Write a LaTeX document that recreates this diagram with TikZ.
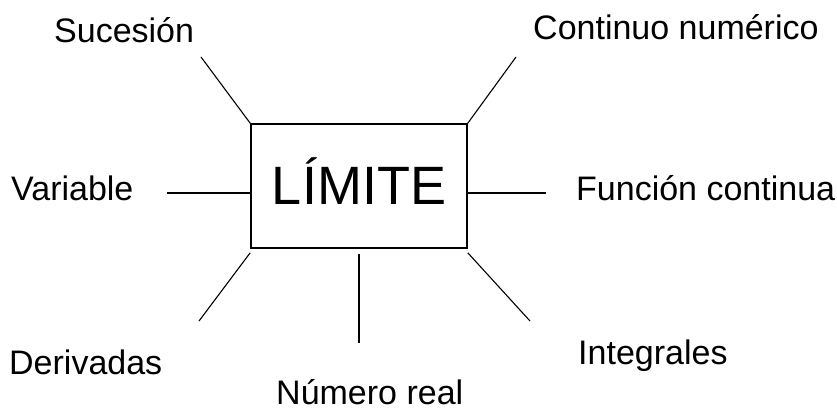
\documentclass[tikz,border=0pt]{standalone}
\usepackage{fontspec}
\setmainfont{Liberation Sans}
\usetikzlibrary{calc, positioning}

\tikzset{
  etiqueta/.style={anchor=base west, inner sep=0pt, font=\fontsize{34}{39}\selectfont},
  caja/.style={draw, line width=1.6pt, minimum width=216pt, minimum height=124pt,
               text height=38pt, text depth=0pt, font=\fontsize{54}{60}\selectfont},
  rama/.style={line width=1.1pt}
}

\begin{document}
\begin{tikzpicture}[x=1pt, y=-1pt]
\useasboundingbox (0,0) rectangle (837,411);

\node[caja] (lim) at (359,186) {LÍMITE};

% extremos libres de las ramas
\coordinate (pSuc) at (201,57);
\coordinate (pCon) at (516,57);
\coordinate (pVar) at (167,193);
\coordinate (pFun) at (546,193);
\coordinate (pDer) at (199,321);
\coordinate (pNum) at (359,343);
\coordinate (pInt) at (530,321);

\draw[rama] (lim.north west) -- (pSuc);
\draw[rama] (lim.north east) -- (pCon);
\draw[rama] (lim.west |- pVar) -- (pVar);
\draw[rama] (lim.east |- pFun) -- (pFun);
\draw[rama] ($(lim.south west)+(0,4)$) -- (pDer);
\draw[rama] ($(lim.south -| pNum)+(0,5)$) -- (pNum);
\draw[rama] ($(lim.south east)+(0,4)$) -- (pInt);

\node[etiqueta] (suc) at (54,43) {Sucesión};
\node[etiqueta] (con) at (533,40) {Continuo numérico};
\node[etiqueta] (var) at (11,201) {Variable};
\node[etiqueta] (fun) at (576,201) {Función continua};
\node[etiqueta] (der) at (9,374) {Derivadas};
\node[etiqueta] (int) at (578,364) {Integrales};
\node[etiqueta] (num) at (276,404) {Número real};

\end{tikzpicture}
\end{document}
